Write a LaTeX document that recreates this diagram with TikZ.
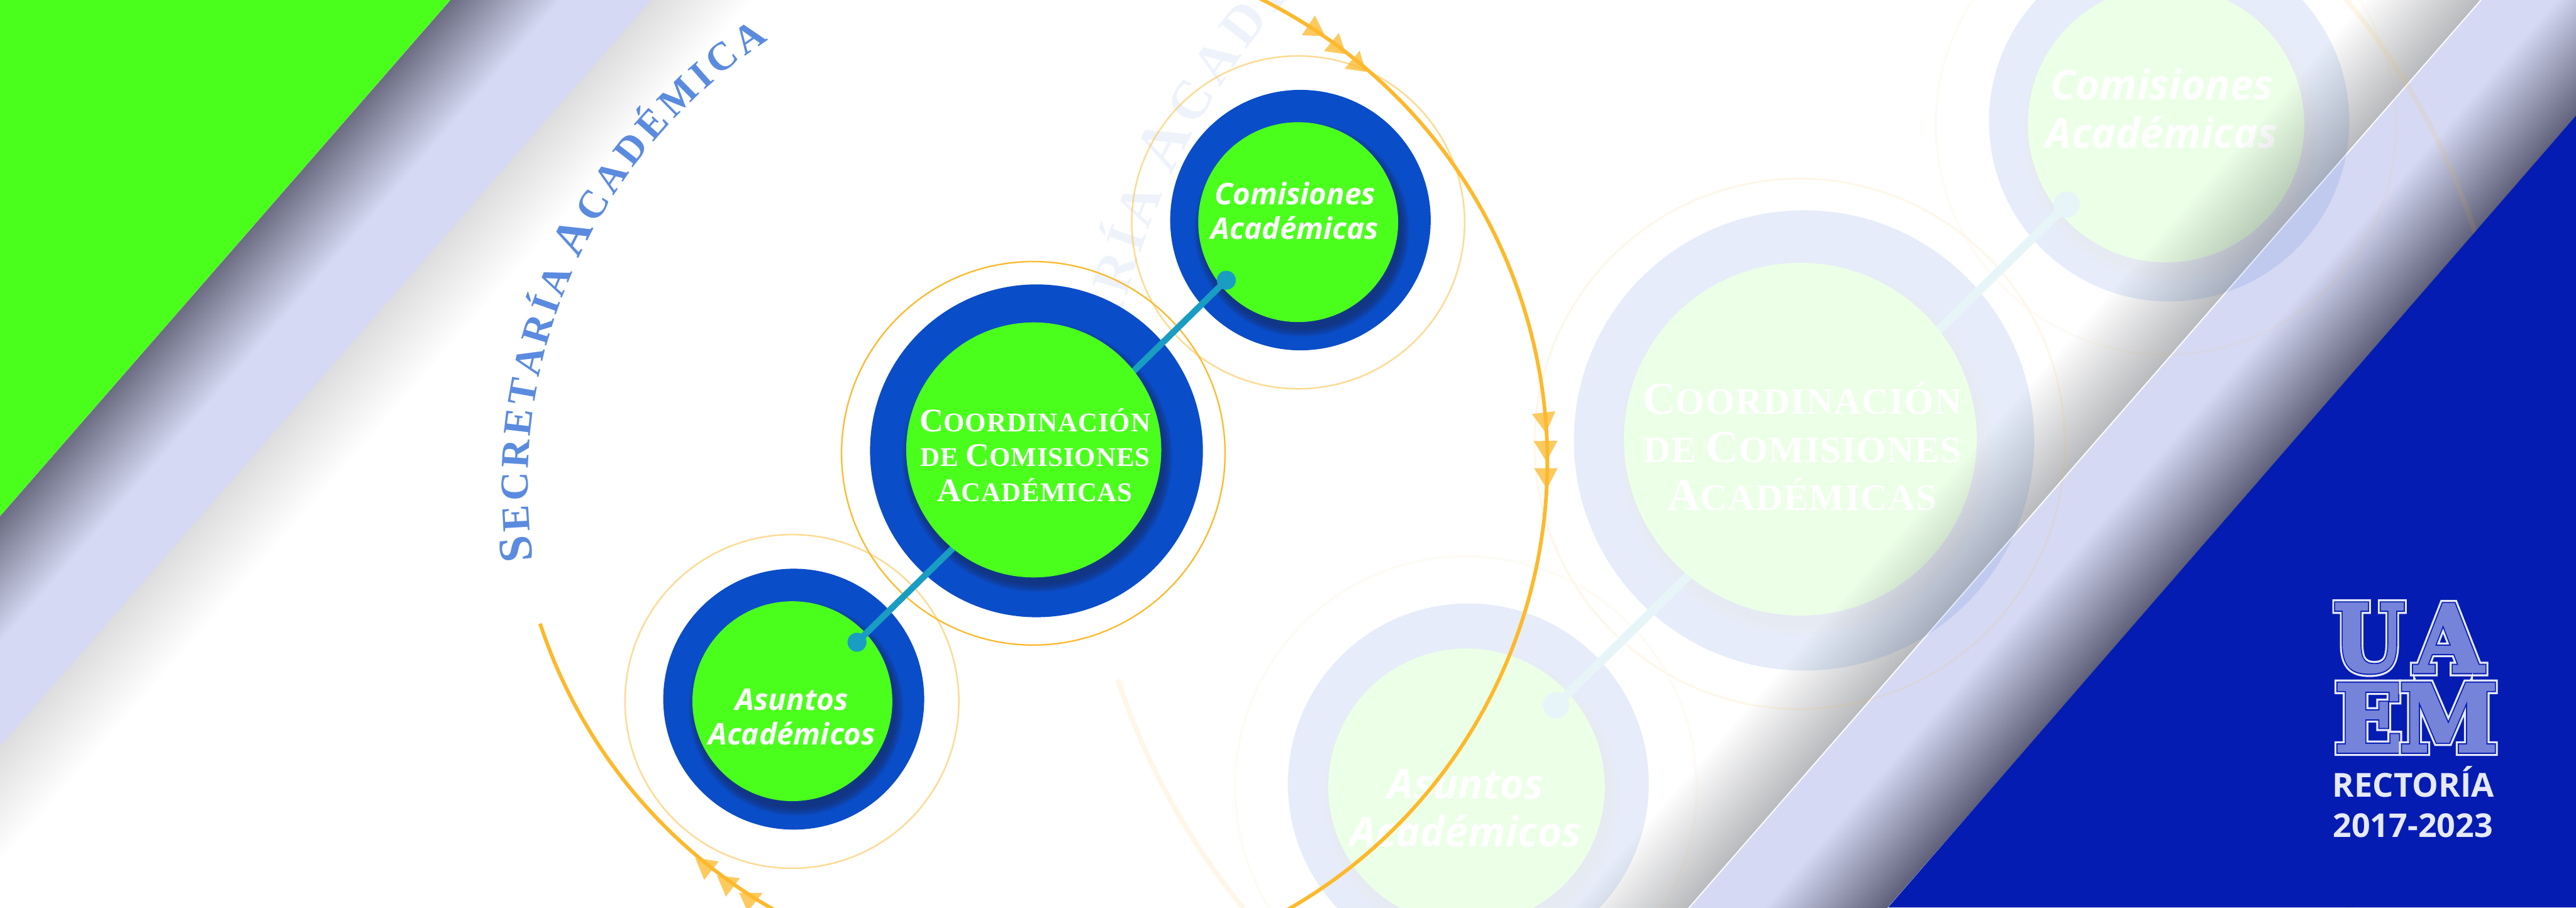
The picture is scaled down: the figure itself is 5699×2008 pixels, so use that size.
\documentclass[tikz,border=0pt]{standalone}
\usepackage{fontspec}
\usepackage{xcolor}
\usetikzlibrary{calc}
\newfontfamily\opensans{Open Sans}
\newfontfamily\lserif[LetterSpace=2]{Liberation Serif}
\newfontfamily\lserifsec{Liberation Serif}
\newfontfamily\logobase[FakeBold=3]{DejaVu Serif Bold}
\newfontfamily\logohalo[FakeBold=10]{DejaVu Serif Bold}
\newfontfamily\logoedge[FakeBold=5.5]{DejaVu Serif Bold}
\definecolor{mgreen}{HTML}{4BFF1D}
\definecolor{mblue}{HTML}{0A4DC8}
\definecolor{mnavy}{HTML}{041CB2}
\definecolor{mteal}{HTML}{1A9DC2}
\definecolor{morange}{HTML}{FDB92C}
\definecolor{secblue}{HTML}{5B8BDF}
\definecolor{lav}{HTML}{D5D9F3}
\definecolor{logofill}{HTML}{7583D9}
\definecolor{logolight}{HTML}{E6E9F8}
\definecolor{shadowc}{HTML}{1A2A60}
\definecolor{banddarkL}{HTML}{6B6C82}
\definecolor{banddarkR}{HTML}{5E5F78}
\definecolor{greyL}{HTML}{DDDDDD}
\definecolor{greyR}{HTML}{B9BABD}
\tikzset{
 discn/.style={circle,inner sep=0pt,outer sep=0pt,transform shape},
 ringn/.style={discn,draw=morange},
 outern/.style={discn,fill=mblue},
 greenn/.style={discn,fill=mgreen},
 dotn/.style={discn,fill=mteal,minimum size=.42cm},
 itt/.style={transform shape,align=center,text=white,inner sep=0pt,font=\opensans\bfseries\itshape\fontsize{18.8}{21.9}\selectfont},
 sct/.style={transform shape,align=center,text=white,inner sep=0pt},
 tri/.style={fill=morange,opacity=.75},
}
\newcommand{\BG}{\fontsize{20.8}{21.9}\selectfont}
\newcommand{\SM}{\fontsize{17}{21.9}\selectfont}
% shadow behind a green disc: stacked translucent discs kept inside the blue one
\newcommand{\dshadow}[6]{% cx cy r outer-x outer-y outer-r
 \begin{scope}
 \clip (#4,#5) circle[radius=#6];
 \foreach \k in {0,...,7}{\fill[shadowc,opacity=.11] ({#1+8},{#2+16}) circle[radius={#3+\k*2.4}];}
 \end{scope}}
% #1 prefix, #2 scale of line widths
\newcommand{\diagram}[2]{%
 % text on circle: letter / distance along the arc / size
 \coordinate (#1sc) at (2353,1077);
 \foreach \ch/\pos/\sz [count=\n] in {S/29.3/30,E/95.3/25,C/163.75/25,R/234.65/25,E/303.1/25,T/369.1/25,A/437.55/25,R/508.45/25,Í/564.7/25,A/620.95/25,A/722/30,C/801.75/25,A/875.25/25,D/948.75/25,É/1019.8/25,M/1100.6/25,I/1169.2/25,C/1228/25,A/1301.5/25}{
  \pgfmathsetmacro{\ang}{172.1+\pos*0.04835}
  \node[transform shape,inner sep=0pt,anchor=base,text=secblue,rotate=270-\ang,font=\lserifsec\bfseries\fontsize{\sz}{\sz}\selectfont] (#1s\n) at ($(#1sc)+(\ang:1185)$) {\ch};
 }
 % rings
 \node[ringn,opacity=.5,line width=#2*1pt,minimum size=7.38cm] (#1ra) at (1752,1552) {};
 \node[ringn,opacity=.5,line width=#2*1pt,minimum size=7.36cm] (#1rc) at (2872,492) {};
 \node[ringn,line width=#2*.9pt,minimum size=8.48cm] (#1rb) at (2286,1003) {};
 % blue discs
 \node[outern,minimum size=5.77cm] (#1oa) at (1756,1547) {};
 \node[outern,minimum size=7.36cm] (#1ob) at (2293,997.5) {};
 \node[outern,minimum size=5.76cm] (#1oc) at (2877,487) {};
 \dshadow{1753}{1551.5}{221}{1756}{1547}{288.5}
 \dshadow{2287}{995.5}{282}{2293}{997.5}{368}
 \dshadow{2872}{491.5}{221}{2877}{487}{288}
 % green discs, link
 \node[greenn,minimum size=4.42cm] (#1ga) at (1753,1551.5) {};
 \node[greenn,minimum size=4.42cm] (#1gc) at (2872,491.5) {};
 \node[dotn] (#1da) at (1896,1421) {};
 \node[dotn] (#1dc) at (2713,620) {};
 \draw[mteal,line width=#2*4pt] (#1da.center) -- (#1dc.center);
 \node[greenn,minimum size=5.64cm] (#1gb) at (2287,995.5) {};
 % labels
 \node[itt] (#1ta) at (1752,1586) {Asuntos\\Académicos};
 \node[itt] (#1tc) at (2865,466) {Comisiones\\Académicas};
 \node[sct,font=\lserif\bfseries\SM] (#1tb) at (2290,1007) {{\BG C}OORDINACIÓN\\DE {\BG C}OMISIONES\\{\BG A}CADÉMICAS};
 % big arc and its marks
 \coordinate (#1ac) at (2280,1021);
 \fill[tri] (1538,1898) -- (1590,1906) -- (1558,1947) -- cycle;
 \fill[tri] (1586,1937) -- (1637,1943) -- (1606,1984) -- cycle;
 \fill[tri] (1635,1975) -- (1687,1976) -- (1654,2017) -- cycle;
 \fill[tri] (2909,34) -- (2880,78) -- (2932,80) -- cycle;
 \fill[tri] (2962,73) -- (2929,113) -- (2978,120) -- cycle;
 \fill[tri] (3008,112) -- (2975,152) -- (3022,159) -- cycle;
 \fill[tri] (3389,916) -- (3441,910) -- (3420,958) -- cycle;
 \fill[tri] (3393,976) -- (3446,975) -- (3421,1021) -- cycle;
 \fill[tri] (3394,1036) -- (3446,1036) -- (3422,1082) -- cycle;
 \draw[morange,line width=#2*2.3pt] (#1ac) ++(161.7:1143) arc[start angle=161.7,end angle=-75,radius=1143];
}
\newcommand{\logoletter}[5]{% name x y letter xscale
 \node[inner sep=0pt,text=logolight,xscale=#5,font=\logohalo\fontsize{58}{58}\selectfont] (#1h) at (#2,#3) {#4};
 \node[inner sep=0pt,text=mnavy,xscale=#5,font=\logoedge\fontsize{58}{58}\selectfont] (#1e) at (#2,#3) {#4};
 \node[inner sep=0pt,text=logofill,xscale=#5,font=\logobase\fontsize{58}{58}\selectfont] (#1) at (#2,#3) {#4};}
\begin{document}
\begin{tikzpicture}[x=0.01cm,y=-0.01cm]
\useasboundingbox (0,0) rectangle (5699,2008);
\clip (0,0) rectangle (5699,2008);
\fill[white] (0,0) rectangle (5699,2008);
% bands (x of the rotated frame is the distance across the band)
\shade[transform canvas={rotate=-41.1},left color=banddarkL,right color=lav] (751,-4000) rectangle (935,5000);
\fill[lav,transform canvas={rotate=-41.1}] (934,-4000) rectangle (1087,5000);
\shade[transform canvas={rotate=-41.1},left color=greyL,right color=white] (1086,-4000) rectangle (1255,5000);
\shade[transform canvas={rotate=-41.1},left color=white,right color=greyR] (3940,-4000) rectangle (4136,5000);
\fill[lav,transform canvas={rotate=-41.1}] (4135,-4000) rectangle (4262,5000);
\shade[transform canvas={rotate=-41.1},left color=lav,right color=banddarkR] (4261,-4000) rectangle (4467,5000);
\fill[white,transform canvas={rotate=-41.1}] (4135,-4000) rectangle (4137.5,5000);
\fill[mgreen] (0,0) -- (996,0) -- (0,1142) -- cycle;
% faded copy
\begin{scope}[transparency group,opacity=.1]
\begin{scope}[shift={(820,-405)},scale=1.383]
\diagram{w}{1.383}
\end{scope}
\end{scope}
\fill[mnavy] (5699,256) -- (5699,2008) -- (4177,2008) -- cycle;
% main
\diagram{m}{1}
% logo
\logoletter{lu}{5241}{1412}{U}{.88}
\logoletter{la}{5418}{1412}{A}{.95}
\logoletter{le}{5240}{1588}{E}{.96}
\logoletter{lm}{5417}{1588}{M}{.96}
\node[inner sep=0pt,text=logolight,anchor=base,font=\opensans\bfseries\fontsize{20.8}{20.8}\selectfont] (rect) at (5339,1763) {RECTORÍA};
\node[inner sep=0pt,text=logolight,anchor=base,font=\opensans\bfseries\fontsize{20.6}{20.6}\selectfont] (years) at (5338,1853) {2017-2023};
\end{tikzpicture}
\end{document}
